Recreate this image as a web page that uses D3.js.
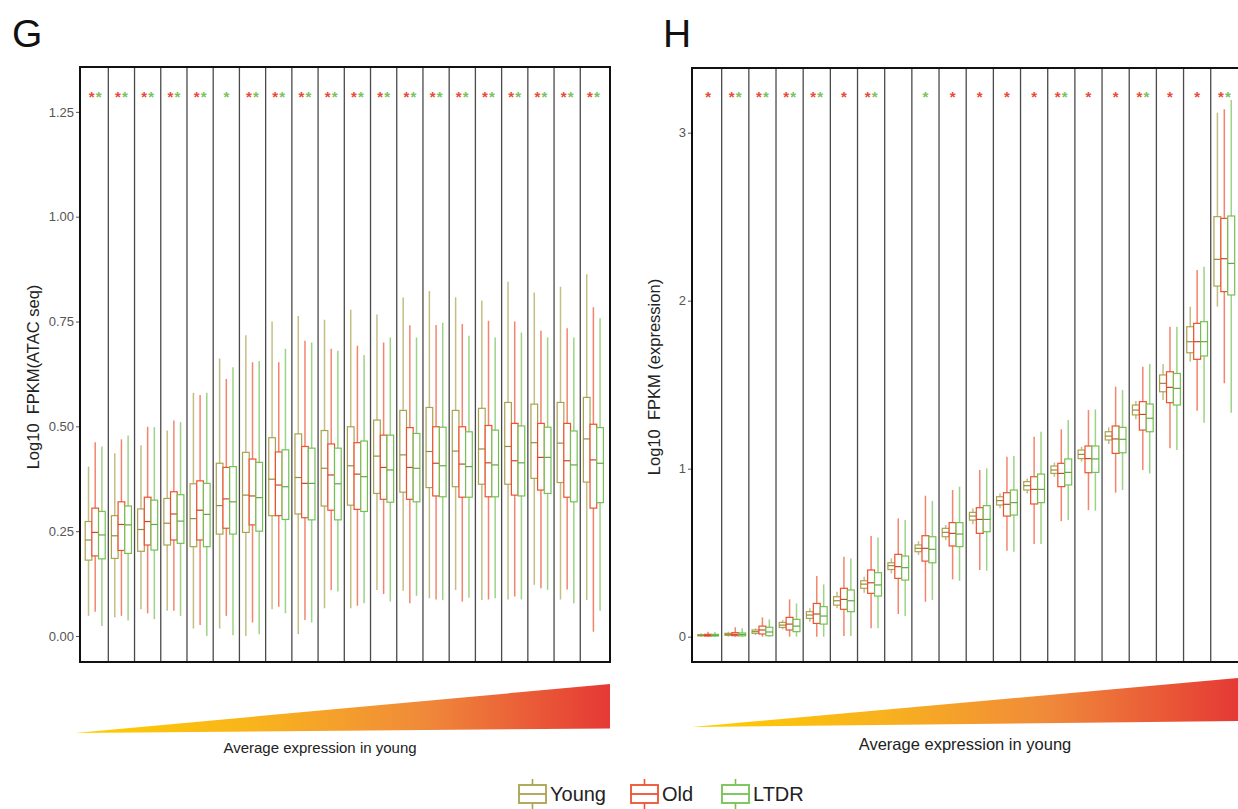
<!DOCTYPE html>
<html><head><meta charset="utf-8">
<script src="https://cdn.jsdelivr.net/npm/d3@7"></script>
<style>body{margin:0;background:#fff}svg{display:block}</style>
</head><body>
<svg id="c" width="1238" height="809"></svg>
<script>
// ---------- data ----------
const groups = d3.range(1, 21).map(String);
const series = ["Young", "Old", "LTDR"];
const seriesColors = ["#aba24f", "#ee5130", "#74c152"];

// [min, q1, median, q3, max]
const atacYoung = [
 [0.048,0.181,0.229,0.273,0.404],[0.045,0.185,0.239,0.287,0.436],[0.064,0.202,0.254,0.303,0.455],
 [0.060,0.217,0.269,0.328,0.490],[0.018,0.213,0.280,0.363,0.580],[0.018,0.243,0.311,0.412,0.662],
 [0.000,0.247,0.336,0.438,0.717],[0.064,0.287,0.374,0.473,0.750],[0.005,0.291,0.378,0.482,0.763],
 [0.066,0.310,0.400,0.490,0.754],[0.066,0.312,0.406,0.499,0.778],[0.110,0.340,0.429,0.515,0.767],
 [0.108,0.343,0.432,0.538,0.807],[0.090,0.354,0.440,0.545,0.823],[0.110,0.356,0.441,0.538,0.808],
 [0.086,0.362,0.446,0.543,0.800],[0.087,0.362,0.452,0.557,0.845],[0.122,0.376,0.461,0.553,0.819],
 [0.087,0.366,0.460,0.557,0.833],[0.086,0.367,0.470,0.569,0.863]];
const atacOld = [
 [0.058,0.191,0.247,0.305,0.462],[0.048,0.204,0.266,0.320,0.469],[0.054,0.217,0.273,0.331,0.499],
 [0.060,0.229,0.291,0.344,0.514],[0.026,0.229,0.300,0.370,0.575],[0.048,0.257,0.327,0.402,0.613],
 [0.032,0.265,0.334,0.422,0.653],[0.070,0.287,0.360,0.439,0.653],[0.038,0.282,0.364,0.452,0.704],
 [0.110,0.300,0.384,0.458,0.685],[0.072,0.302,0.386,0.461,0.692],[0.100,0.326,0.402,0.479,0.700],
 [0.078,0.326,0.402,0.497,0.741],[0.087,0.334,0.412,0.499,0.742],[0.082,0.331,0.410,0.499,0.744],
 [0.087,0.332,0.413,0.502,0.752],[0.094,0.336,0.418,0.507,0.750],[0.114,0.348,0.426,0.507,0.728],
 [0.111,0.331,0.418,0.507,0.734],[0.010,0.305,0.420,0.505,0.784]];
const atacLTDR = [
 [0.024,0.184,0.241,0.297,0.452],[0.037,0.197,0.265,0.310,0.478],[0.040,0.205,0.266,0.324,0.498],
 [0.048,0.221,0.274,0.337,0.510],[0.000,0.213,0.290,0.364,0.580],[0.002,0.243,0.320,0.404,0.641],
 [0.004,0.250,0.330,0.414,0.656],[0.054,0.278,0.356,0.444,0.685],[0.032,0.277,0.364,0.448,0.700],
 [0.106,0.277,0.363,0.448,0.680],[0.078,0.297,0.380,0.465,0.670],[0.082,0.319,0.396,0.479,0.712],
 [0.096,0.320,0.400,0.483,0.712],[0.086,0.332,0.406,0.498,0.747],[0.091,0.331,0.404,0.487,0.716],
 [0.090,0.332,0.408,0.491,0.712],[0.087,0.334,0.413,0.501,0.724],[0.110,0.340,0.426,0.498,0.712],
 [0.078,0.320,0.408,0.489,0.712],[0.060,0.318,0.412,0.497,0.758]];

const exprYoung = [
 [0.000,0.005,0.008,0.012,0.020],[0.000,0.008,0.014,0.020,0.030],[0.010,0.020,0.030,0.040,0.050],
 [0.044,0.055,0.069,0.085,0.100],[0.089,0.109,0.129,0.149,0.169],[0.169,0.188,0.214,0.238,0.268],
 [0.262,0.288,0.313,0.333,0.357],[0.377,0.400,0.423,0.440,0.466],[0.486,0.506,0.526,0.546,0.569],
 [0.575,0.595,0.621,0.645,0.665],[0.669,0.694,0.718,0.740,0.764],[0.764,0.784,0.810,0.833,0.853],
 [0.853,0.873,0.899,0.923,0.942],[0.952,0.972,0.992,1.016,1.036],[1.042,1.060,1.085,1.111,1.131],
 [1.147,1.171,1.194,1.220,1.246],[1.294,1.320,1.349,1.379,1.403],[1.409,1.458,1.508,1.558,1.623],
 [1.637,1.690,1.756,1.845,1.964],[1.964,2.087,2.246,2.500,3.119]];
const exprOld = [
 [0.000,0.004,0.008,0.014,0.030],[0.000,0.006,0.014,0.024,0.056],[0.000,0.016,0.040,0.063,0.115],
 [0.000,0.040,0.075,0.115,0.222],[0.000,0.079,0.135,0.198,0.361],[0.004,0.163,0.222,0.288,0.476],
 [0.050,0.258,0.321,0.397,0.599],[0.135,0.347,0.417,0.490,0.704],[0.208,0.450,0.526,0.601,0.839],
 [0.341,0.540,0.615,0.679,0.873],[0.397,0.615,0.698,0.768,0.992],[0.512,0.718,0.788,0.857,1.071],
 [0.552,0.790,0.877,0.952,1.190],[0.688,0.893,0.972,1.032,1.234],[0.754,0.976,1.060,1.135,1.349],
 [0.857,1.091,1.177,1.254,1.488],[0.992,1.230,1.323,1.399,1.607],[1.121,1.393,1.484,1.577,1.845],
 [1.345,1.651,1.756,1.865,2.183],[1.508,2.054,2.250,2.490,3.139]];
const exprLTDR = [
 [0.000,0.004,0.008,0.014,0.028],[0.000,0.005,0.013,0.022,0.050],[0.000,0.006,0.028,0.056,0.103],
 [0.000,0.030,0.063,0.103,0.198],[0.000,0.075,0.123,0.179,0.311],[0.004,0.149,0.214,0.278,0.466],
 [0.050,0.242,0.308,0.381,0.591],[0.123,0.337,0.411,0.480,0.694],[0.218,0.440,0.520,0.595,0.808],
 [0.333,0.536,0.611,0.679,0.893],[0.393,0.625,0.698,0.780,1.002],[0.506,0.724,0.798,0.873,1.075],
 [0.552,0.798,0.877,0.968,1.220],[0.694,0.903,0.978,1.058,1.290],[0.750,0.978,1.058,1.135,1.353],
 [0.873,1.095,1.175,1.246,1.468],[0.972,1.220,1.300,1.385,1.623],[1.111,1.379,1.478,1.567,1.845],
 [1.274,1.671,1.756,1.875,2.202],[1.333,2.034,2.222,2.504,3.194]];

// significance stars: r = red star (Old), g = green star (LTDR)
const atacSig = ["rg","rg","rg","rg","rg","g","rg","rg","rg","rg","rg","rg","rg","rg","rg","rg","rg","rg","rg","rg"];
const exprSig = ["r","rg","rg","rg","rg","r","rg","","g","r","r","r","r","rg","r","r","rg","r","r","rg"];

const atacTicks = [0, 0.25, 0.5, 0.75, 1.0, 1.25];
const atacTickLabels = ["0.00","0.25","0.50","0.75","1.00","1.25"];
const exprTicks = [0, 1, 2, 3];
const exprTickLabels = ["0","1","2","3"];

// ---------- drawing ----------
const svg = d3.select("#c");
const FONT = "'Liberation Sans', Arial, Helvetica, sans-serif";
const defs = svg.append("defs");
const grad = defs.append("linearGradient").attr("id","ramp").attr("x1","0%").attr("x2","100%").attr("y1","0").attr("y2","0");
[["0%","#ffcf00"],["35%","#f8b21e"],["65%","#f08a3a"],["100%","#e53935"]].forEach(([o,c]) =>
  grad.append("stop").attr("offset", o).attr("stop-color", c));

function panel(cfg) {
  const g = svg.append("g");
  const y = d3.scaleLinear().domain(cfg.yDomain).range([cfg.bottom, cfg.top]);
  const x = d3.scaleBand().domain(groups).range(cfg.band).paddingInner(0).paddingOuter(0);
  const bw = x.bandwidth();
  const xs = d3.scaleBand().domain(series).range([-bw * 0.382, bw * 0.382]);
  const data = [cfg.young, cfg.old, cfg.ltdr];

  // separators
  g.selectAll("line.sep").data(groups.slice(1)).join("line")
    .attr("x1", d => x(d)).attr("x2", d => x(d))
    .attr("y1", cfg.top).attr("y2", cfg.bottom)
    .attr("stroke", "#4a4a4a").attr("stroke-width", 1.3);

  // boxes
  series.forEach((s, si) => {
    const col = seriesColors[si];
    const sg = g.append("g");
    const rows = data[si].map((v, i) => ({g: groups[i], v}));
    const cx = d => x(d.g) + bw / 2 + xs(s) + xs.bandwidth() / 2;
    sg.selectAll("line.wh").data(rows).join("line")
      .attr("x1", cx).attr("x2", cx)
      .attr("y1", d => y(d.v[0])).attr("y2", d => y(d.v[4]))
      .attr("stroke", col).attr("stroke-opacity", 0.7).attr("stroke-width", 1.5);
    sg.selectAll("rect").data(rows).join("rect")
      .attr("x", d => cx(d) - xs.bandwidth() / 2).attr("width", xs.bandwidth())
      .attr("y", d => y(d.v[3])).attr("height", d => Math.max(0.5, y(d.v[1]) - y(d.v[3])))
      .attr("fill", "#fff").attr("stroke", col).attr("stroke-width", 1.2);
    sg.selectAll("line.med").data(rows).join("line")
      .attr("x1", d => cx(d) - xs.bandwidth() / 2).attr("x2", d => cx(d) + xs.bandwidth() / 2)
      .attr("y1", d => y(d.v[2])).attr("y2", d => y(d.v[2]))
      .attr("stroke", d3.color(col).darker(0.4)).attr("stroke-width", 1.2);
  });

  // stars
  cfg.sig.forEach((s, i) => {
    const c = x(groups[i]) + bw / 2;
    const chars = s.split("");
    chars.forEach((ch, k) => {
      const off = chars.length === 2 ? (k === 0 ? -3.5 : 3.5) : 0;
      g.append("text").attr("x", c + off).attr("y", cfg.starY)
        .attr("text-anchor", "middle").attr("font-family", FONT).attr("font-size", 15)
        .attr("font-weight", "bold")
        .attr("fill", ch === "r" ? "#ea4a3c" : "#7cc35c").text("*");
    });
  });

  // frame
  g.append("rect").attr("x", cfg.frame[0]).attr("y", cfg.top)
    .attr("width", cfg.frame[1] - cfg.frame[0]).attr("height", cfg.bottom - cfg.top)
    .attr("fill", "none").attr("stroke", "#111").attr("stroke-width", 2);

  // y axis
  const ax = g.append("g").attr("transform", `translate(${cfg.frame[0] - 1},0)`)
    .call(d3.axisLeft(y).tickValues(cfg.ticks).tickFormat((d, i) => cfg.tickLabels[i]).tickSize(3).tickPadding(2));
  ax.select(".domain").remove();
  ax.selectAll(".tick line").attr("stroke", "#555");
  ax.selectAll(".tick text").attr("font-family", FONT).attr("font-size", cfg.tickFont).attr("fill", "#555");

  g.append("text").attr("transform", `translate(${cfg.titleX},${cfg.titleY}) rotate(-90)`)
    .attr("text-anchor", "middle").attr("font-family", FONT).attr("font-size", 16.5).attr("fill", "#222")
    .attr("xml:space", "preserve").style("white-space", "pre").text(cfg.title);

  // panel letter
  svg.append("text").attr("x", cfg.letterX).attr("y", 47).attr("font-family", FONT)
    .attr("font-size", 39).attr("fill", "#111").text(cfg.letter);

  // gradient wedge
  const tri = cfg.tri;
  svg.append("path").attr("d", d3.line()(tri) + "Z").attr("fill", "url(#ramp)");
  svg.append("text").attr("x", cfg.capX).attr("y", cfg.capY).attr("text-anchor", "middle")
    .attr("font-family", FONT).attr("font-size", cfg.capFont).attr("fill", "#222")
    .text("Average expression in young");
}

panel({
  young: atacYoung, old: atacOld, ltdr: atacLTDR, sig: atacSig,
  yDomain: [-0.062, 1.357], top: 67, bottom: 662, band: [82.1, 606.5], frame: [80, 610],
  ticks: atacTicks, tickLabels: atacTickLabels, tickFont: 13,
  title: "Log10  FPKM(ATAC seq)", titleX: 38.5, titleY: 377,
  starY: 102, letter: "G", letterX: 12,
  tri: [[75, 733], [610, 684], [610, 728.5]], capX: 320, capY: 753, capFont: 15
});
panel({
  young: exprYoung, old: exprOld, ltdr: exprLTDR, sig: exprSig,
  yDomain: [-0.1506, 3.385], top: 68, bottom: 662, band: [694.5, 1237.9], frame: [692, 1239],
  ticks: exprTicks, tickLabels: exprTickLabels, tickFont: 13,
  title: "Log10  FPKM (expression)", titleX: 660, titleY: 377,
  starY: 102, letter: "H", letterX: 663,
  tri: [[692, 727], [1238, 678], [1238, 721]], capX: 965, capY: 750, capFont: 16.5
});

// legend
const legendX = [519, 631, 722];
const lg = svg.append("g");
series.forEach((s, i) => {
  const col = seriesColors[i], x0 = legendX[i], w = 27;
  lg.append("line").attr("x1", x0 + w / 2).attr("x2", x0 + w / 2).attr("y1", 779).attr("y2", 809)
    .attr("stroke", col).attr("stroke-width", 1.6);
  lg.append("rect").attr("x", x0).attr("y", 785).attr("width", w).attr("height", 18)
    .attr("fill", "#fff").attr("stroke", col).attr("stroke-width", 1.8);
  lg.append("line").attr("x1", x0).attr("x2", x0 + w).attr("y1", 794).attr("y2", 794)
    .attr("stroke", col).attr("stroke-width", 1.8);
  lg.append("text").attr("x", x0 + w + 4).attr("y", 801).attr("font-family", FONT)
    .attr("font-size", 20).attr("fill", "#222").text(s);
});
</script>
</body></html>
